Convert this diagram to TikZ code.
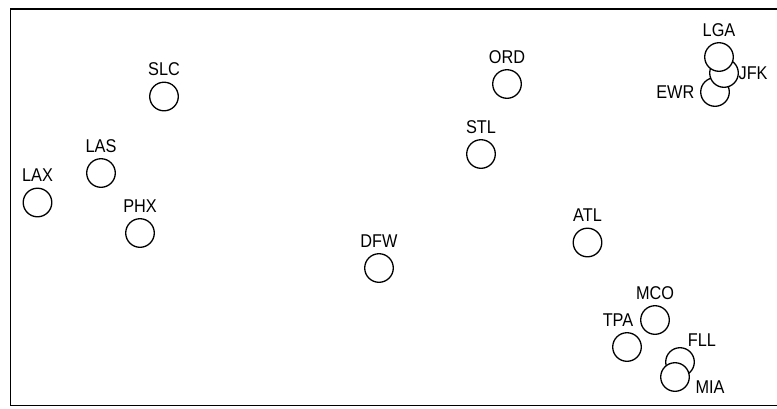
\documentclass[tikz,border=0pt]{standalone}
\usepackage{fontspec}
\setmainfont{Liberation Sans}
\newfontfamily\narrowfont[FakeStretch=0.88]{Liberation Sans}
\usetikzlibrary{positioning}

\begin{document}
\begin{tikzpicture}[x=1pt,y=-1pt,label distance=5.5pt,
                    airport/.style={circle,draw,fill=white,line width=1.3pt,minimum size=28.6pt,inner sep=0pt},
                    every label/.style={inner sep=0pt,font=\narrowfont\fontsize{18.5}{18.5}\selectfont}]

      \clip (0,0) rectangle (777,408);
      \draw[line width=1.6pt] (10.5,8.8) rectangle (790,405.5);

      % west
      \node[airport,label=above:SLC] (slc) at (164,96.5) {};
      \node[airport,label=above:LAS] (las) at (101,173) {};
      \node[airport,label=above:LAX] (lax) at (37.5,202.5) {};
      \node[airport,label=above:PHX] (phx) at (140,233) {};
      % middle
      \node[airport,label=above:DFW] (dfw) at (379,268) {};
      \node[airport,label=above:STL] (stl) at (481,154) {};
      \node[airport,label=above:ORD] (ord) at (507,84) {};
      \node[airport,label=above:ATL] (atl) at (587.5,242.5) {};
      % new york
      \node[airport,label=left:EWR] (ewr) at (715,92) {};
      \node[airport,label={[xshift=-6pt]right:JFK}] (jfk) at (724,73) {};
      \node[airport,label=above:LGA] (lga) at (719,57) {};
      % florida
      \node[airport,label=above:MCO] (mco) at (655,320) {};
      \node[airport,label={[xshift=-9pt]above:TPA}] (tpa) at (627,347) {};
      \node[airport,label={[xshift=22pt,yshift=-5pt]above:FLL}] (fll) at (680,362) {};
      \node[airport,label={[yshift=-10pt]right:MIA}] (mia) at (675,377) {};
    \end{tikzpicture}
\end{document}
